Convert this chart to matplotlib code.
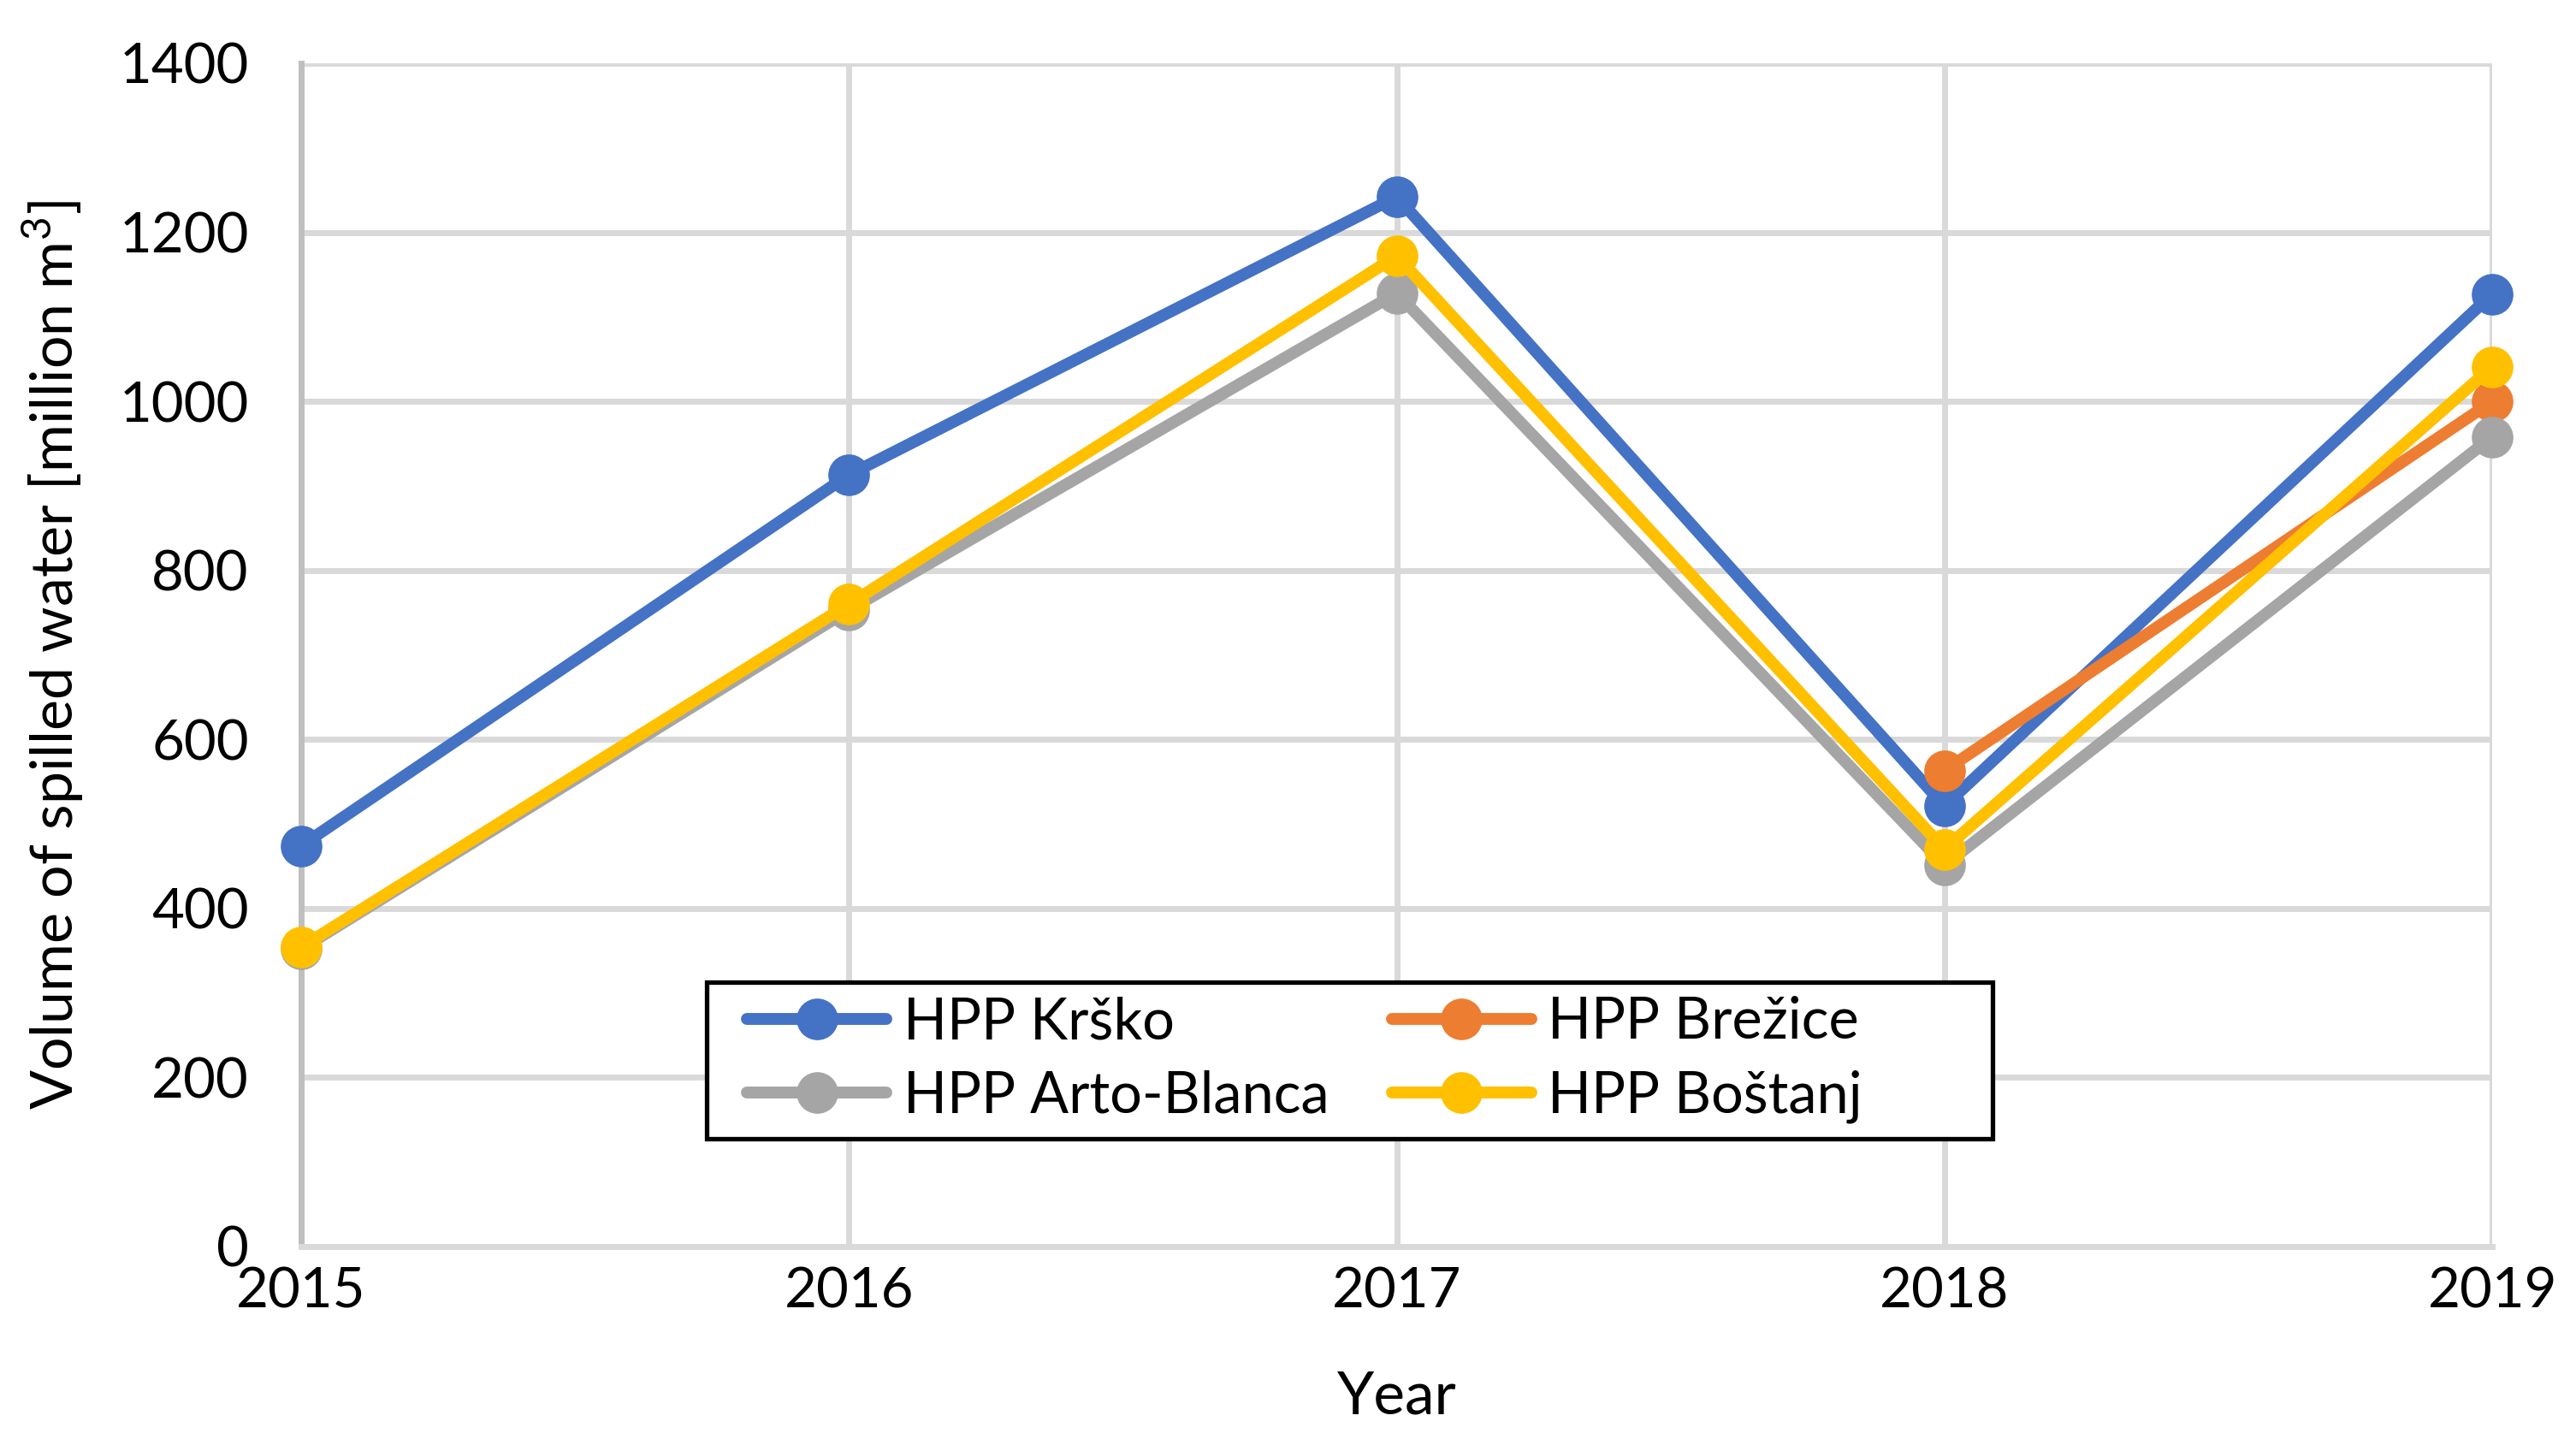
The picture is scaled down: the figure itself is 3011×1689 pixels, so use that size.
import numpy as np
import matplotlib
matplotlib.use("Agg")
import matplotlib.pyplot as plt
from matplotlib.patches import Rectangle

years = [2015, 2016, 2017, 2018, 2019]
krsko = [474, 913, 1242, 521, 1127]
brezice = [np.nan, np.nan, np.nan, 563, 1000]
arto_blanca = [352, 753, 1128, 451, 958]
bostanj = [354, 760, 1172, 470, 1041]

series = [
    ("HPP Krško", krsko, "#4472C4"),
    ("HPP Brežice", brezice, "#ED7D31"),
    ("HPP Arto-Blanca", arto_blanca, "#A5A5A5"),
    ("HPP Boštanj", bostanj, "#FFC000"),
]

plt.rcParams['font.family'] = ['Lato', 'DejaVu Sans']
plt.rcParams['mathtext.fontset'] = 'custom'
plt.rcParams['mathtext.rm'] = 'Lato'

fig = plt.figure(figsize=(30.11, 16.89), dpi=100)
ax = fig.add_axes([0.1169, 0.1375, 0.8506, 0.8187])

handles = {}
for name, vals, col in series:
    h, = ax.plot(years, vals, color=col, lw=10, marker='o', markersize=34,
                 label=name, solid_capstyle='round', zorder=3, clip_on=False)
    handles[name] = h

ax.set_xlim(2015, 2019)
ax.set_ylim(0, 1400)
ax.set_xticks(years)
ax.set_yticks(np.arange(0, 1401, 200))
ax.grid(True, color='#d9d9d9', lw=5, zorder=0)
ax.set_axisbelow(True)
for s in ['top', 'right']:
    ax.spines[s].set_visible(False)
ax.spines['bottom'].set_color('#d9d9d9')
ax.spines['bottom'].set_linewidth(5)
ax.spines['left'].set_color('#bfbfbf')
ax.spines['left'].set_linewidth(5)
ax.tick_params(axis='both', length=0, labelsize=47)
ax.tick_params(axis='y', pad=44)
ax.tick_params(axis='x', pad=17)

ax.set_xlabel("Year", fontsize=50, labelpad=45)
ax.set_ylabel(r"Volume of spilled water [million m$^3$]", fontsize=49, labelpad=28)

# legend box (Excel-style fixed-size frame)
ax.add_patch(Rectangle((0.185, 0.091), 0.587, 0.132, transform=ax.transAxes,
                       facecolor='white', edgecolor='black', lw=3.8, zorder=4))

order = ["HPP Krško", "HPP Arto-Blanca", "HPP Brežice", "HPP Boštanj"]
leg = ax.legend([handles[n] for n in order], order, ncol=2, loc='center left',
                bbox_to_anchor=(0.2034, 0.1578),
                fontsize=48, frameon=False,
                handlelength=2.45, handletextpad=0.29, columnspacing=1.1,
                borderpad=0, labelspacing=0.36, borderaxespad=0)
leg.set_zorder(5)

fig.savefig("out.png", dpi=100)
